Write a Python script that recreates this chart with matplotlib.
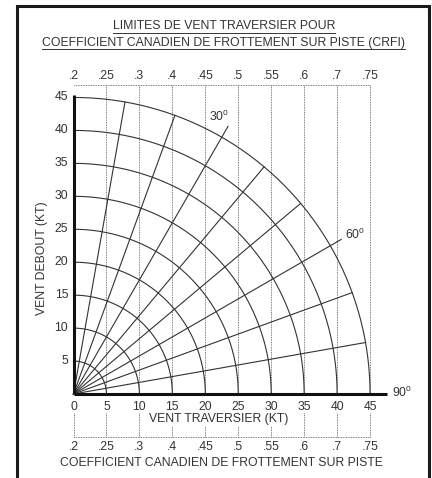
import matplotlib
matplotlib.use("Agg")
import matplotlib.pyplot as plt
from matplotlib.lines import Line2D
import numpy as np

# chart values
radii = [5, 10, 15, 20, 25, 30, 35, 40, 45]
spoke_angles = [10, 20, 30, 40, 50, 60, 70, 80]   # degrees from the headwind axis
labelled_angles = [30, 60]
crosswind_ticks = [0, 5, 10, 15, 20, 25, 30, 35, 40, 45]
headwind_ticks = [5, 10, 15, 20, 25, 30, 35, 40, 45]
crfi_labels = [".2", ".25", ".3", ".4", ".45", ".5", ".55", ".6", ".7", ".75"]

title_lines = ["LIMITES DE VENT TRAVERSIER POUR",
               "COEFFICIENT CANADIEN DE FROTTEMENT SUR PISTE (CRFI)"]

plt.rcParams["font.family"] = ["Liberation Sans", "DejaVu Sans"]
plt.rcParams["mathtext.fontset"] = "custom"
plt.rcParams["mathtext.rm"] = "Liberation Sans"

W, H = 432, 478
ox, oy, s = 73.5, 394.0, 6.59   # origin in pixels and pixels per knot

fig = plt.figure(figsize=(W / 100, H / 100), dpi=100)
ax = fig.add_axes([0, 0, 1, 1])
ax.set_xlim(-ox / s, (W - ox) / s)
ax.set_ylim(-(H - oy) / s, oy / s)
ax.axis("off")

line_col = "#333333"
text_col = "#333333"
fs = 8.8

# dotted CRFI grid
top_y = 46.9
for x in crosswind_ticks[1:]:
    ax.plot([x, x], [0, top_y], ls=(0, (1, 1)), lw=0.6, color="#555555", zorder=1)
ax.plot([0, 45], [top_y, top_y], ls=(0, (1, 1)), lw=0.6, color="#555555", zorder=1)
for x in crosswind_ticks:
    ax.plot([x, x], [-2.9, -6.6], ls=(0, (1, 1)), lw=0.6, color="#555555", zorder=1)
ax.plot([0, 45], [-6.6, -6.6], ls=(0, (1, 1)), lw=0.6, color="#555555", zorder=1)

# arcs
th = np.linspace(0, np.pi / 2, 200)
for r in radii:
    ax.plot(r * np.sin(th), r * np.cos(th), color=line_col, lw=0.8, zorder=2)

# spokes
for a in spoke_angles:
    r = 46.9 if a in labelled_angles else 45
    t = np.radians(a)
    ax.plot([0, r * np.sin(t)], [0, r * np.cos(t)], color=line_col, lw=0.8, zorder=2)

# axes
ax.plot([0, 0], [0, 45.4], color="#111111", lw=2.2, solid_capstyle="butt", zorder=3)
ax.plot([0, 47.5], [0, 0], color="#111111", lw=2.2, solid_capstyle="butt", zorder=3)

deg = r"$^{\mathrm{o}}$"
ax.text(22.1, 42.0, "30" + deg, fontsize=fs, color=text_col, ha="center", va="center")
ax.text(42.7, 24.1, "60" + deg, fontsize=fs, color=text_col, ha="center", va="center")
ax.text(48.3, 0.1, "90" + deg, fontsize=fs, color=text_col, ha="left", va="center")

# tick labels
for y in headwind_ticks:
    ax.text(-0.8, y, str(y), fontsize=fs, color=text_col, ha="right", va="center")
for x in crosswind_ticks:
    ax.text(x, -2.0, str(x), fontsize=fs, color=text_col, ha="center", va="center")
for x, lab in zip(crosswind_ticks, crfi_labels):
    ax.text(x, 48.2, lab, fontsize=fs, color=text_col, ha="center", va="center")
    ax.text(x, -8.0, lab, fontsize=fs, color=text_col, ha="center", va="center")

ax.text(22.0, -3.85, "VENT TRAVERSIER (KT)", fontsize=fs, color=text_col,
        ha="center", va="center", zorder=4,
        bbox=dict(facecolor="white", edgecolor="none", pad=0.5))
ax.text(-4.8, 20.6, "VENT DEBOUT (KT)", fontsize=fs, color=text_col,
        ha="center", va="center", rotation=90)
ax.text(22.5, -10.5, "COEFFICIENT CANADIEN DE FROTTEMENT SUR PISTE",
        fontsize=fs, color=text_col, ha="center", va="center")

# underlined title
titles = []
for i, line in enumerate(title_lines):
    titles.append(ax.text(22.8, 55.8 - 2.55 * i, line, fontsize=fs, color=text_col,
                          ha="center", va="center"))
fig.canvas.draw()
for t in titles:
    bb = t.get_window_extent()
    yline = bb.y0 - 0.3
    fig.add_artist(Line2D([bb.x0 / W, bb.x1 / W], [yline / H, yline / H],
                          color=text_col, lw=0.7))

# frame
fx0, fx1, fy = 16.5, 428.5, 6.0
fig.add_artist(Line2D([fx0 / W, fx0 / W, fx1 / W, fx1 / W],
                      [0, 1 - fy / H, 1 - fy / H, 0], color="#1a1a1a", lw=2.2,
                      solid_joinstyle="miter"))

fig.savefig("out.png", dpi=100)
